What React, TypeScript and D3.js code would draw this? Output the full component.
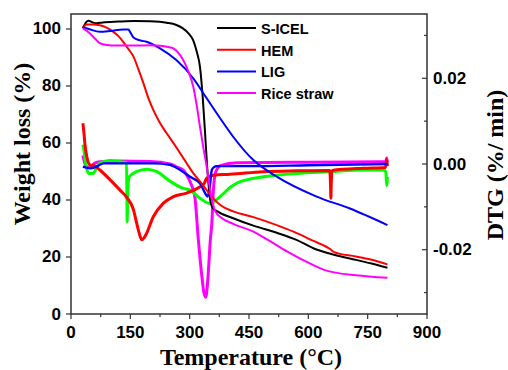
import React from "react";
import * as d3 from "d3";

// ---------- data ----------
const xTicks = [0, 150, 300, 450, 600, 750, 900];
const xMinorTicks = [75, 225, 375, 525, 675, 825];
const yLeftTicks = [0, 20, 40, 60, 80, 100];
const yRightTicks = [-0.02, 0.0, 0.02];
const yRightMinor = [-0.03, -0.01, 0.01, 0.03];
const yRightLabels = ["-0.02", "0.00", "0.02"];

const legendNames = ["S-ICEL", "HEM", "LIG", "Rice straw"];
const legendColors = ["#000000", "#ff0000", "#0000ff", "#ff00ff"];

// TGA (weight %)
const sicelTGA: [number, number][] = [
  [30, 100.2], [38, 102.3], [44, 102.9], [55, 102.3], [65, 102], [80, 102.3], [120, 102.6],
  [160, 102.8], [200, 102.7], [242, 102.2], [265, 101.5], [283, 100.2], [297, 98.5], [309, 96],
  [318, 92], [326, 86.8], [333, 76], [339, 63.4], [344, 52], [348, 45], [352, 40], [358, 37.3],
  [370, 36], [410, 33.6], [461, 31], [520, 28.5], [570, 26], [614, 23], [665, 20.8], [720, 19],
  [760, 17.7], [800, 16.2],
];
const hemTGA: [number, number][] = [
  [30, 100.5], [40, 101.6], [55, 101.6], [73, 101.3], [90, 100.5], [107, 99], [120, 97.5],
  [132, 95.5], [145, 93], [158, 90.3], [170, 86], [183, 81], [195, 76], [208, 71.6], [225, 67],
  [242, 63.4], [260, 59.8], [276, 56.4], [292, 53], [309, 49.4], [326, 46.5], [343, 43.5],
  [360, 40.5], [380, 38], [410, 36], [461, 34], [520, 31.2], [564, 28.8], [610, 25.8],
  [656, 22.7], [665, 21.7], [720, 20.2], [770, 18.7], [800, 17.4],
];
const ligTGA: [number, number][] = [
  [30, 100.6], [45, 100], [73, 99], [100, 99.3], [132, 99.8], [145, 99.8], [150, 98.8],
  [158, 97], [175, 96], [191, 95.5], [225, 93.2], [267, 89], [309, 82.7], [343, 75.7],
  [377, 68.7], [410, 62.2], [461, 54], [520, 48.2], [621, 41.2], [705, 37], [800, 31.2],
];
const riceTGA: [number, number][] = [
  [30, 100.2], [45, 98.8], [56, 97.3], [65, 96], [73, 95], [90, 94.4], [115, 94.2], [160, 94.2],
  [200, 94.3], [225, 94.1], [245, 93.7], [259, 93.2], [272, 91.5], [284, 89], [297, 85],
  [309, 79.8], [318, 73], [326, 65.7], [335, 58], [343, 51.7], [350, 45], [357, 39.5],
  [365, 36], [380, 33.8], [410, 31.6], [461, 28.9], [500, 25.8], [547, 21.9], [600, 18],
  [640, 15.5], [665, 14.6], [720, 13.6], [800, 12.7],
];

// DTG (%/min)
const greenDTG: [number, number][] = [
  [30, 0.0045], [33, 0.003], [36, 0.0009], [40, -0.0012], [45, -0.0022], [56, -0.0022],
  [65, -0.0008], [73, 0.0002], [99, 0.0008], [120, 0.0006], [140.5, 0.0003], [142, -0.0135],
  [143.5, -0.0065], [147, -0.003], [166, -0.0018], [191, -0.0012], [217, -0.0018],
  [250, -0.004], [284, -0.0057], [301, -0.0061], [326, -0.008], [351, -0.0092], [377, -0.0076],
  [402, -0.0055], [423, -0.0043], [444, -0.0037], [486, -0.003], [571, -0.0022],
  [655, -0.0018], [739, -0.0014], [792, -0.0014], [796, -0.002], [798, -0.005], [800, -0.003],
];
const redDTG: [number, number][] = [
  [30, 0.0095], [33, 0.007], [35, 0.0048], [40, 0.0017], [48, -0.0002], [61, -0.0005],
  [73, -0.0014], [99, -0.0037], [124, -0.0061], [141, -0.0078], [158, -0.0107],
  [166, -0.0138], [172, -0.016], [179, -0.0177], [185, -0.0172], [191, -0.0162],
  [208, -0.0123], [233, -0.0092], [259, -0.0076], [292, -0.0068], [326, -0.0053],
  [337, -0.0045], [343, -0.0033], [360, -0.0026], [402, -0.0024], [486, -0.0018],
  [571, -0.0016], [654, -0.0015], [656, -0.0045], [657, -0.008], [658, -0.0045],
  [660, -0.0015], [739, -0.001], [795, -0.0008], [798, 0.001], [800, -0.0005],
];
const blueDTG: [number, number][] = [
  [30, -0.0006], [48, -0.001], [65, -0.0006], [82, 0.00015], [150, 0.00015], [208, 0.00015],
  [250, -0.0002], [276, -0.0014], [301, -0.003], [326, -0.0045], [339, -0.0068],
  [345, -0.0076], [350, -0.006], [356, -0.0014], [362, -0.0007], [368, -0.0005],
  [450, -0.0005], [600, -0.0003], [800, 0],
];
const magentaDTG: [number, number][] = [
  [30, 0.002], [38, -0.0005], [48, -0.0008], [60, 0.0002], [73, 0.0005], [120, 0.0007],
  [200, 0.0006], [250, 0], [270, -0.0008], [284, -0.0014], [295, -0.003], [305, -0.005],
  [313, -0.0076], [322, -0.0177], [330, -0.0255], [336, -0.03], [340.5, -0.0311],
  [344, -0.029], [347, -0.0255], [352, -0.018], [356, -0.0138], [360, -0.0061],
  [364, -0.0025], [368, -0.0014], [377, -0.0004], [420, 0.0003], [600, 0.0004],
  [780, 0.0005], [796, 0.0006], [798, 0.0014], [800, 0.0004],
];

// ---------- chart ----------
const W = 508;
const H = 370;
const L = 71, R = 427, T = 14, B = 314;

export default function App() {
  const x = d3.scaleLinear().domain([0, 900]).range([L, R]);
  const yL = d3.scaleLinear().domain([0, 105.263]).range([B, T]);
  const yR = d3.scaleLinear().domain([-0.035, 0.035]).range([B, T]);

  const lineL = d3.line<[number, number]>().x((d) => x(d[0])).y((d) => yL(d[1])).curve(d3.curveMonotoneX);
  const lineR = d3.line<[number, number]>().x((d) => x(d[0])).y((d) => yR(d[1])).curve(d3.curveMonotoneX);

  const tickFont = "'Liberation Sans', Arial, sans-serif";
  const titleFont = "'Liberation Serif', 'Times New Roman', serif";

  return (
    <svg width={W} height={H} style={{ position: "absolute", left: 0, top: 0, background: "#fff" }}>
      <rect x={0} y={0} width={W} height={H} fill="#fff" />
      {/* DTG curves */}
      <g fill="none" strokeLinejoin="round">
        <path d={lineR(magentaDTG) || ""} stroke="#ff00ff" strokeWidth={3} />
        <path d={lineR(greenDTG) || ""} stroke="#00ff00" strokeWidth={3} />
        <path d={lineR(redDTG) || ""} stroke="#ff0000" strokeWidth={3} />
        <path d={lineR(blueDTG) || ""} stroke="#0000ff" strokeWidth={2.4} />
      </g>
      {/* TGA curves */}
      <g fill="none" strokeWidth={2} strokeLinejoin="round">
        <path d={lineL(sicelTGA) || ""} stroke="#000000" />
        <path d={lineL(hemTGA) || ""} stroke="#ff0000" />
        <path d={lineL(ligTGA) || ""} stroke="#0000ff" />
        <path d={lineL(riceTGA) || ""} stroke="#ff00ff" />
      </g>

      {/* frame */}
      <rect x={L} y={T} width={R - L} height={B - T} fill="none" stroke="#333" strokeWidth={1.5} />

      {/* ticks */}
      <g stroke="#333" strokeWidth={1.2}>
        {xTicks.map((t) => (
          <line key={"xt" + t} x1={x(t)} x2={x(t)} y1={B} y2={B + 5} />
        ))}
        {xMinorTicks.map((t) => (
          <line key={"xm" + t} x1={x(t)} x2={x(t)} y1={B} y2={B + 3} />
        ))}
        {yLeftTicks.map((t) => (
          <line key={"yl" + t} x1={L - 5} x2={L} y1={yL(t)} y2={yL(t)} />
        ))}
        {yRightTicks.map((t) => (
          <line key={"yr" + t} x1={R - 5} x2={R} y1={yR(t)} y2={yR(t)} />
        ))}
        {yRightMinor.map((t) => (
          <line key={"yrm" + t} x1={R - 3} x2={R} y1={yR(t)} y2={yR(t)} />
        ))}
      </g>

      <g fontFamily={tickFont} fontWeight="bold" fontSize={17} fill="#000">
        {xTicks.map((t) => (
          <text key={"xl" + t} x={x(t)} y={338} textAnchor="middle">{t}</text>
        ))}
        {yLeftTicks.map((t) => (
          <text key={"yll" + t} x={61} y={yL(t)} textAnchor="end" dominantBaseline="central">{t}</text>
        ))}
        {yRightTicks.map((t, i) => (
          <text key={"yrl" + t} x={433} y={yR(t)} textAnchor="start" dominantBaseline="central">{yRightLabels[i]}</text>
        ))}
      </g>

      {/* axis titles */}
      <g fontFamily={titleFont} fontWeight="bold" fontSize={24} fill="#000">
        <text x={251} y={365} textAnchor="middle">Temperature (°C)</text>
        <text transform="translate(30,144) rotate(-90)" textAnchor="middle">Weight loss (%)</text>
        <text transform="translate(503,165) rotate(-90)" textAnchor="middle">DTG (%/ min)</text>
      </g>

      {/* legend */}
      <g fontFamily={tickFont} fontWeight="bold" fontSize={14.5}>
        {legendNames.map((n, i) => {
          const yy = 28 + i * 21.7;
          return (
            <g key={n}>
              <line x1={217} x2={256} y1={yy} y2={yy} stroke={legendColors[i]} strokeWidth={2} />
              <text x={261} y={yy + 1} dominantBaseline="central" fill="#000">{n}</text>
            </g>
          );
        })}
      </g>
    </svg>
  );
}
